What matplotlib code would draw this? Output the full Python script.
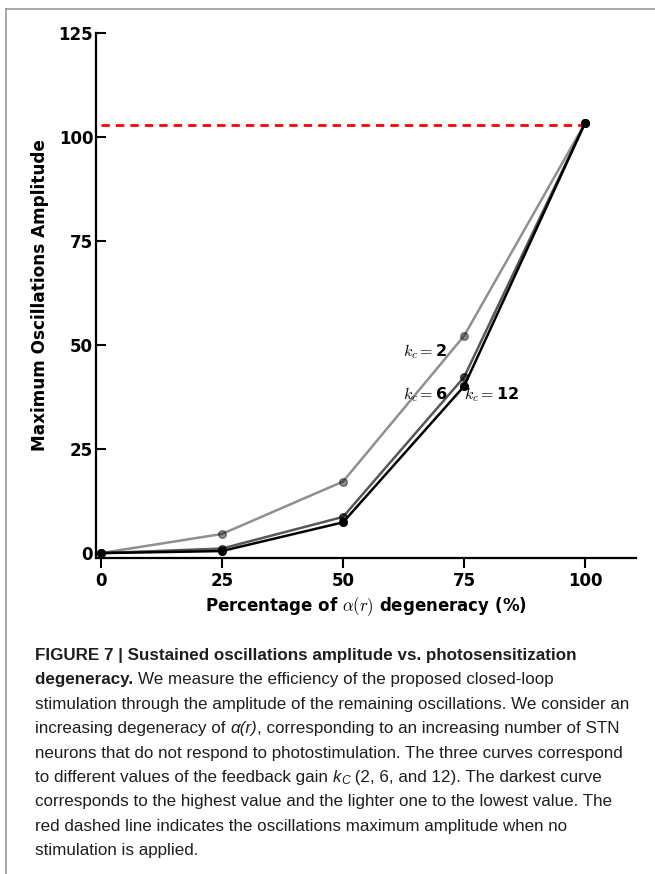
import matplotlib
matplotlib.use("Agg")
import matplotlib.pyplot as plt
from matplotlib.lines import Line2D

plt.rcParams["font.family"] = ["DejaVu Sans"]
plt.rcParams["mathtext.fontset"] = "cm"

# ---------------- data ----------------
degeneracy = [0, 25, 50, 75, 100]
amp_kc2 = [0.0, 4.6, 17.2, 52.2, 103.4]
amp_kc6 = [0.0, 1.1, 8.7, 42.3, 103.4]
amp_kc12 = [0.0, 0.5, 7.4, 40.1, 103.4]
no_stim_amp = 103.0
x_ticks = [0, 25, 50, 75, 100]
y_ticks = [0, 25, 50, 75, 100, 125]

W, H = 655, 874
fig = plt.figure(figsize=(W / 100, H / 100), dpi=100)

# page border lines (top and left)
fig.add_artist(Line2D([6 / W, 1.0], [1 - 9 / H, 1 - 9 / H], color="#9a9a9a", lw=1.2,
                      transform=fig.transFigure))
fig.add_artist(Line2D([6 / W, 6 / W], [0, 1 - 9 / H], color="#9a9a9a", lw=1.2,
                      transform=fig.transFigure))

ax = fig.add_axes([96 / W, 1 - 557.7 / H, (636 - 96) / W, (557.7 - 33) / H])

ax.plot(degeneracy, amp_kc2, color="k", alpha=0.44, lw=1.8, marker="o", ms=5.5, zorder=3)
ax.plot(degeneracy, amp_kc6, color="k", alpha=0.66, lw=1.8, marker="o", ms=5.5, zorder=4)
ax.plot(degeneracy, amp_kc12, color="k", alpha=1.0, lw=1.8, marker="o", ms=5.5, zorder=5)
ax.plot([degeneracy[0], degeneracy[-1]], [no_stim_amp, no_stim_amp], color="red",
        lw=2.0, ls=(0, (3, 2.2)), zorder=2)

ax.set_xlim(-1, 110.5)
ax.set_ylim(-1.1, 125)
ax.set_xticks(x_ticks)
ax.set_yticks(y_ticks)
ax.set_xticklabels([str(t) for t in x_ticks], fontweight="bold", fontsize=12)
ax.set_yticklabels([str(t) for t in y_ticks], fontweight="bold", fontsize=12)
ax.tick_params(axis="y", direction="in", length=7, width=1.5, pad=2)
ax.tick_params(axis="x", direction="out", length=7, width=1.5, pad=3)
for s in ["top", "right"]:
    ax.spines[s].set_visible(False)
for s in ["left", "bottom"]:
    ax.spines[s].set_linewidth(1.6)

ax.set_ylabel("Maximum Oscillations Amplitude", fontweight="bold", fontsize=12.2, labelpad=7)
ax.set_xlabel(r"Percentage of $\alpha(r)$ degeneracy (%)", fontweight="bold", fontsize=12,
              labelpad=4)

ax.text(62.3, 48.5, r"$k_c=$" + "2", fontweight="bold", fontsize=11.5, va="center")
ax.text(62.3, 38.2, r"$k_c=$" + "6", fontweight="bold", fontsize=11.5, va="center")
ax.text(75.0, 38.2, r"$k_c=$" + "12", fontweight="bold", fontsize=11.5, va="center")

# ---------------- caption ----------------
cap_fam = "Liberation Sans"

caption_lines = [
    [("FIGURE 7 | Sustained oscillations amplitude vs. photosensitization", "bold", "normal", 0)],
    [("degeneracy. ", "bold", "normal", 0),
     ("We measure the efficiency of the proposed closed-loop", "normal", "normal", 0)],
    [("stimulation through the amplitude of the remaining oscillations. We consider an", "normal", "normal", 0)],
    [("increasing degeneracy of ", "normal", "normal", 0), ("\u03b1(r)", "normal", "italic", 0),
     (", corresponding to an increasing number of STN", "normal", "normal", 0)],
    [("neurons that do not respond to photostimulation. The three curves correspond", "normal", "normal", 0)],
    [("to different values of the feedback gain ", "normal", "normal", 0), ("k", "normal", "italic", 0),
     ("C", "normal", "italic", 1), (" (2, 6, and 12). The darkest curve", "normal", "normal", 0)],
    [("corresponds to the highest value and the lighter one to the lowest value. The", "normal", "normal", 0)],
    [("red dashed line indicates the oscillations maximum amplitude when no", "normal", "normal", 0)],
    [("stimulation is applied.", "normal", "normal", 0)],
]

renderer = fig.canvas.get_renderer()


def text_width(s, size, weight, style):
    t = fig.text(0, 0, s, fontsize=size, fontweight=weight, fontstyle=style, family=cap_fam)
    w = t.get_window_extent(renderer).width
    t.remove()
    return w


def advance(s, size, weight, style):
    # advance width of s, including any leading/trailing spaces
    return (text_width("|" + s + "|", size, weight, style)
            - text_width("||", size, weight, style))


target_w = 595.0
base = 12.0
w3 = text_width(caption_lines[2][0][0], base, "normal", "normal")
cap_size = base * target_w / w3

x0 = 35
y0 = 654
dy = 24.4
for i, line in enumerate(caption_lines):
    x = x0
    y = y0 + i * dy
    for s, weight, style, sub in line:
        size = cap_size * (0.72 if sub else 1.0)
        yy = y + (3.5 if sub else 0)
        fig.text(x / W, 1 - yy / H, s, fontsize=size, fontweight=weight, fontstyle=style,
                 family=cap_fam, va="center_baseline", ha="left", color="#1e1e1e")
        x += advance(s, size, weight, style)

fig.savefig("out.png", dpi=100)
